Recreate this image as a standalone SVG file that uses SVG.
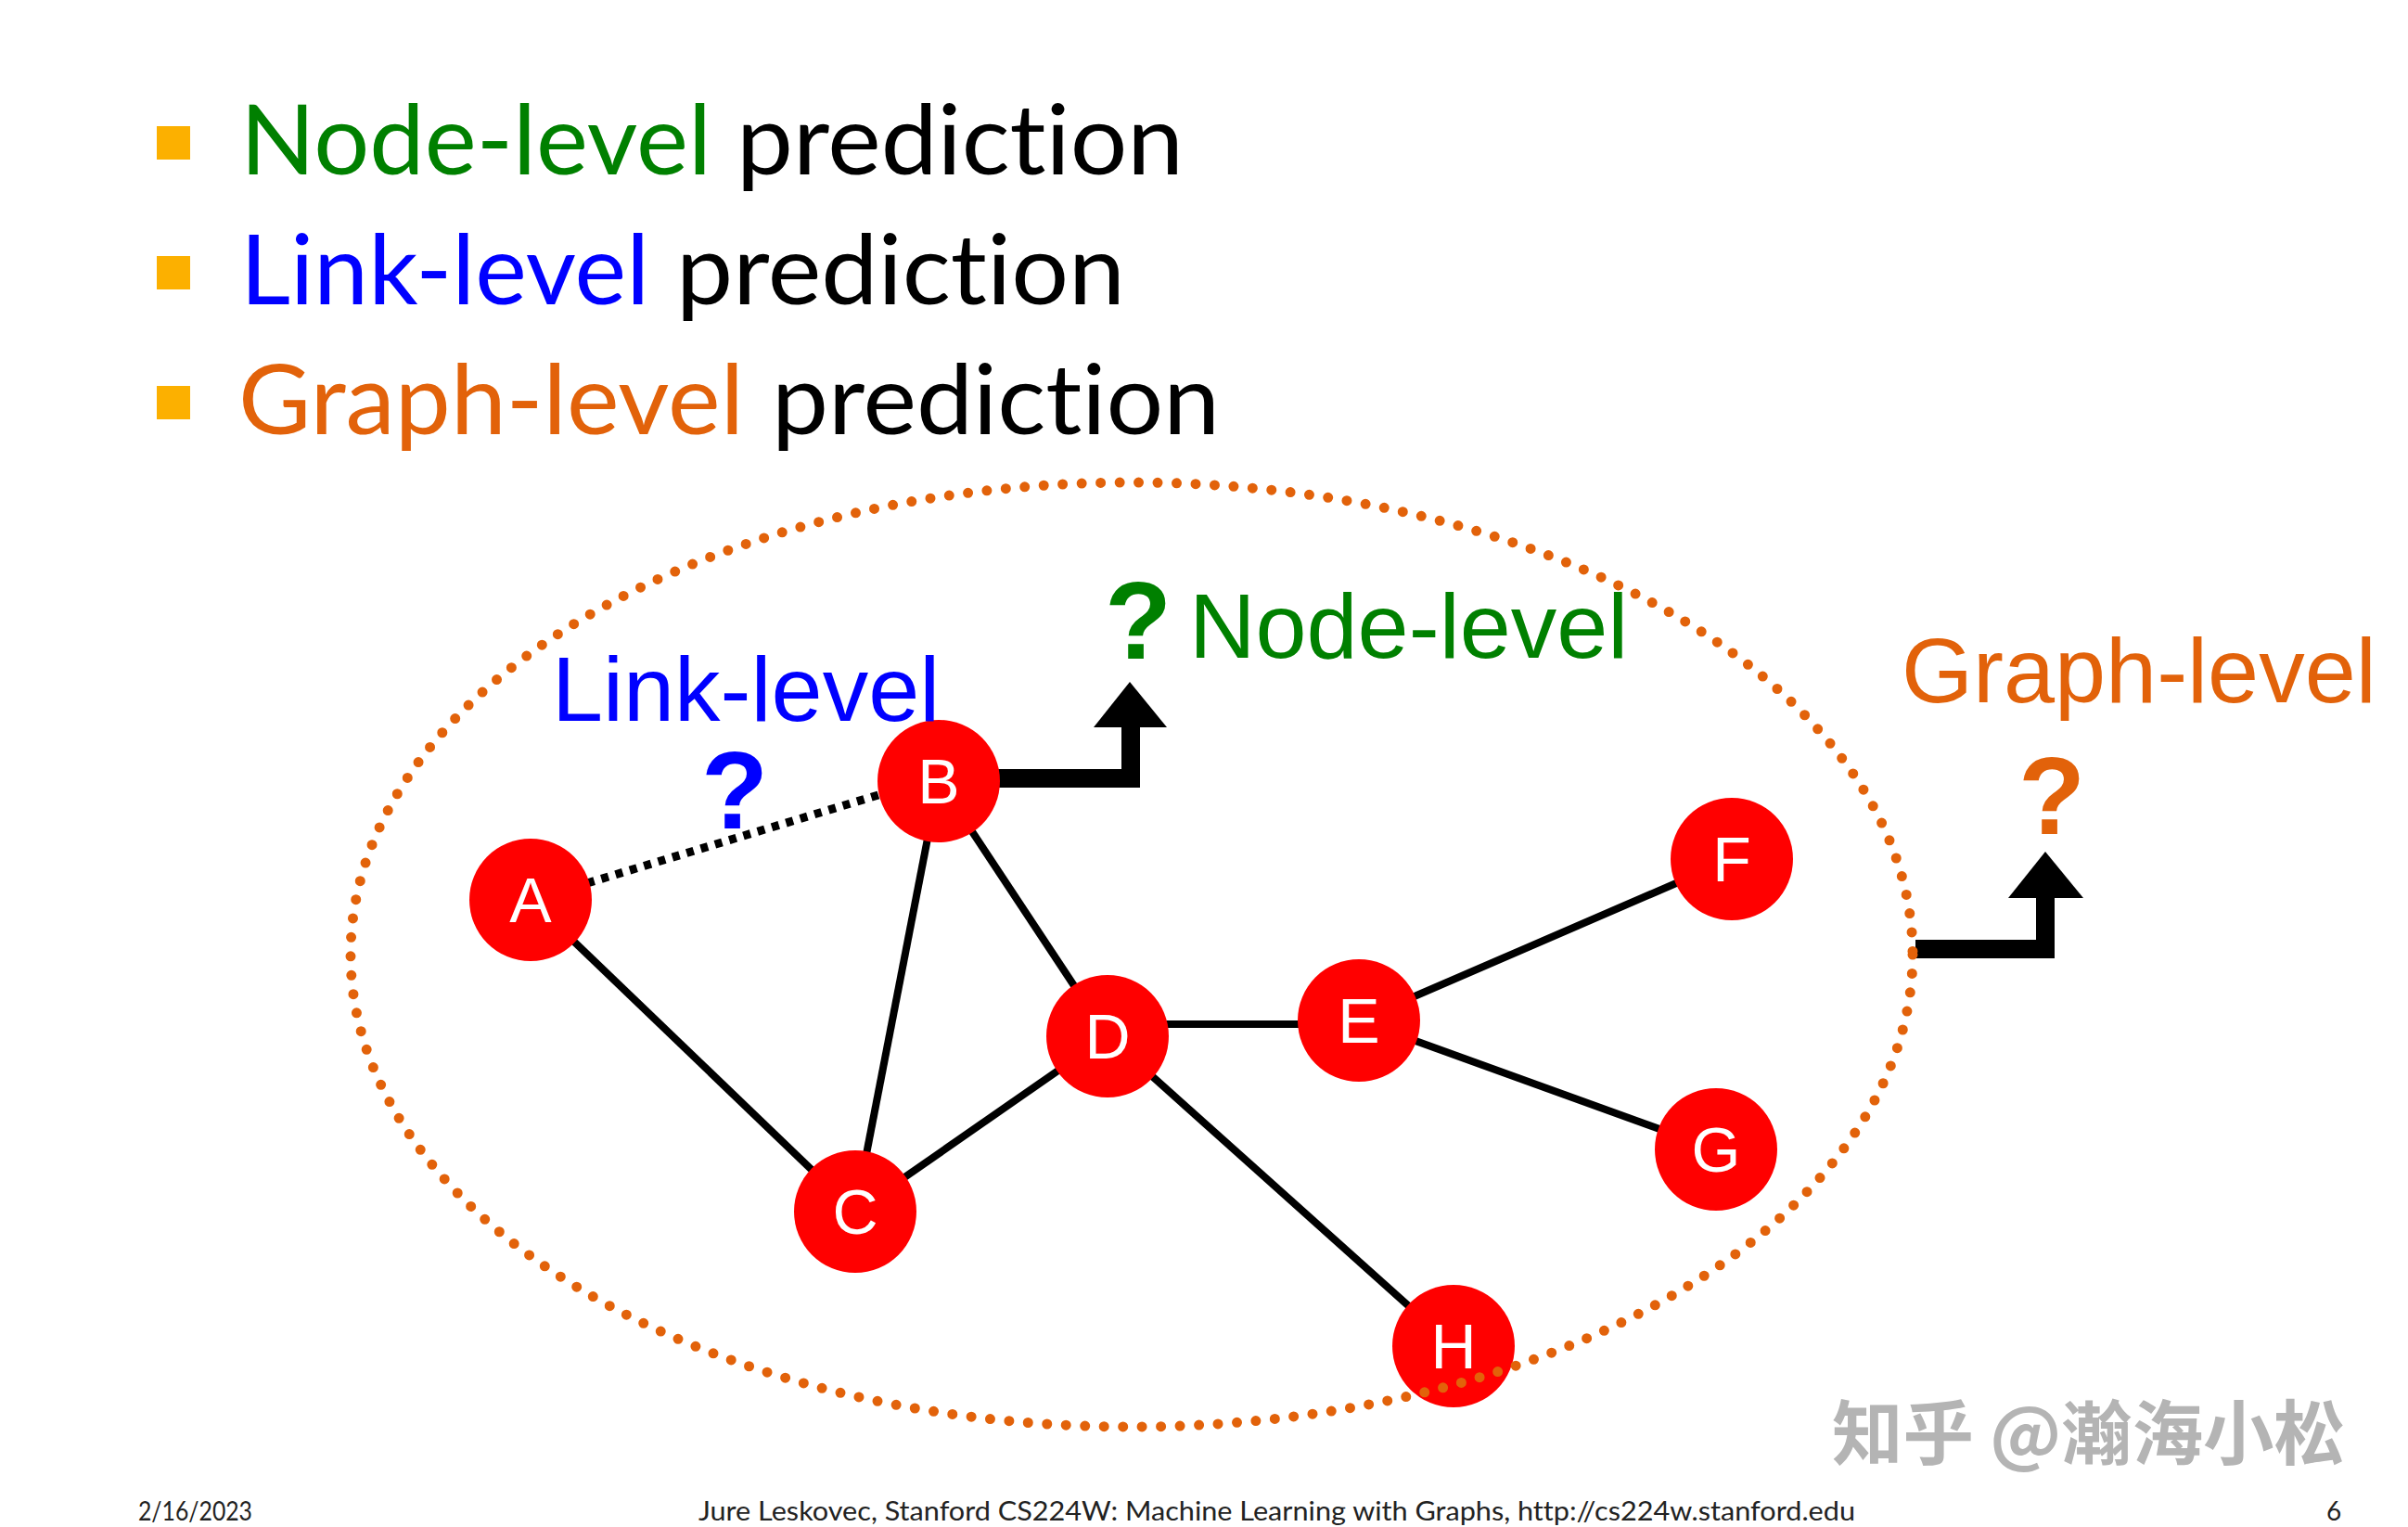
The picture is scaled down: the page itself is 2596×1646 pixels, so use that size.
<svg xmlns="http://www.w3.org/2000/svg" width="2596" height="1646" viewBox="0 0 2596 1646">
<defs>
<style>
.ttl{font-family:Lato,"Open Sans","Liberation Sans",sans-serif;font-size:104px;font-variant-ligatures:none;font-feature-settings:"liga" 0,"dlig" 0}
.bul{fill:#FCB000}
.edge{stroke:#000;stroke-width:8;fill:none}
.dot{stroke:#000;stroke-width:9;stroke-dasharray:8 8;fill:none}
.node circle{fill:#FF0000}
.node text{font-family:"Liberation Sans",Arial,sans-serif;font-size:68px;fill:#fff;text-anchor:middle}
.lbl{font-family:"Liberation Sans",Arial,sans-serif;font-size:99px}
.q{font-family:"Liberation Sans",Arial,sans-serif;font-size:118px;font-weight:bold;text-anchor:middle}
.arr{stroke:#000;stroke-width:20;fill:none;stroke-linejoin:miter}
.foot{font-family:Lato,"Open Sans","Liberation Sans",sans-serif;font-size:28px;fill:#222;font-variant-ligatures:none}
</style>
</defs>
<rect width="2596" height="1646" fill="#fff"/>

<g id="title">
<rect class="bul" x="169" y="136" width="36" height="36"/>
<rect class="bul" x="169" y="276" width="36" height="36"/>
<rect class="bul" x="169" y="416" width="36" height="36"/>
<text class="ttl" x="259" y="188" fill="#008000" textLength="508" lengthAdjust="spacingAndGlyphs">Node-level</text>
<text class="ttl" x="794" y="188" fill="#000" textLength="482" lengthAdjust="spacingAndGlyphs">prediction</text>
<text class="ttl" x="259" y="328" fill="#0000FF" textLength="441" lengthAdjust="spacingAndGlyphs">Link-level</text>
<text class="ttl" x="729" y="328" fill="#000" textLength="484" lengthAdjust="spacingAndGlyphs">prediction</text>
<text class="ttl" x="257" y="468" fill="#E2620A" textLength="545" lengthAdjust="spacingAndGlyphs">Graph-level</text>
<text class="ttl" x="832" y="468" fill="#000" textLength="483" lengthAdjust="spacingAndGlyphs">prediction</text>
</g>

<g id="connectors">
<line class="edge" x1="572" y1="970" x2="922" y2="1306"/>
<line class="edge" x1="1012" y1="842" x2="922" y2="1306"/>
<line class="edge" x1="1012" y1="842" x2="1194" y2="1117"/>
<line class="edge" x1="922" y1="1306" x2="1194" y2="1117"/>
<line class="edge" x1="1194" y1="1104" x2="1465" y2="1104"/>
<line class="edge" x1="1194" y1="1117" x2="1567" y2="1451"/>
<line class="edge" x1="1465" y1="1100" x2="1867" y2="926"/>
<line class="edge" x1="1465" y1="1100" x2="1850" y2="1239"/>
<line class="dot" x1="633" y1="952" x2="950" y2="856"/>
<polyline class="arr" points="1070,839 1219,839 1219,782"/>
<polygon points="1179,784 1258,784 1218,735" fill="#000"/>
<polyline class="arr" points="2065,1023 2205,1023 2205,966"/>
<polygon points="2165,968 2246,968 2205,918" fill="#000"/>
</g>

<g id="node-A" class="node"><circle cx="572" cy="970" r="66"/><text x="572" y="994">A</text></g>
<g id="node-B" class="node"><circle cx="1012" cy="842" r="66"/><text x="1012" y="866">B</text></g>
<g id="node-C" class="node"><circle cx="922" cy="1306" r="66"/><text x="922" y="1330">C</text></g>
<g id="node-D" class="node"><circle cx="1194" cy="1117" r="66"/><text x="1194" y="1141">D</text></g>
<g id="node-E" class="node"><circle cx="1465" cy="1100" r="66"/><text x="1465" y="1124">E</text></g>
<g id="node-F" class="node"><circle cx="1867" cy="926" r="66"/><text x="1867" y="950">F</text></g>
<g id="node-G" class="node"><circle cx="1850" cy="1239" r="66"/><text x="1850" y="1263">G</text></g>
<g id="node-H" class="node"><circle cx="1567" cy="1451" r="66"/><text x="1567" y="1475">H</text></g>

<g id="graph-boundary">
<ellipse cx="1220" cy="1029" rx="842" ry="509" fill="none" stroke="#E2620A" stroke-width="11" stroke-linecap="round" stroke-dasharray="0 20.5"/>
</g>

<g id="labels">
<text class="lbl" x="595" y="777" fill="#0000FF">Link-level</text>
<text class="q" x="792" y="893" fill="#0000FF">?</text>
<text class="q" x="1227" y="710" fill="#008000">?</text>
<text class="lbl" x="1282" y="709" fill="#008000">Node-level</text>
<text class="lbl" x="2050" y="757" fill="#E2620A">Graph-level</text>
<text class="q" x="2212" y="899" fill="#E2620A">?</text>
</g>

<g id="watermark">
<text x="1975" y="1573" font-family="'Noto Sans CJK SC',sans-serif" font-size="76" font-weight="bold" fill="#b4b4b4" textLength="553" lengthAdjust="spacingAndGlyphs">知乎 @瀚海小松</text>
</g>

<g id="footer">
<text class="foot" x="149" y="1639" textLength="123" lengthAdjust="spacingAndGlyphs">2/16/2023</text>
<text class="foot" x="753" y="1639" textLength="1247" lengthAdjust="spacingAndGlyphs">Jure Leskovec, Stanford CS224W: Machine Learning with Graphs, http://cs224w.stanford.edu</text>
<text class="foot" x="2508" y="1639">6</text>
</g>
</svg>
